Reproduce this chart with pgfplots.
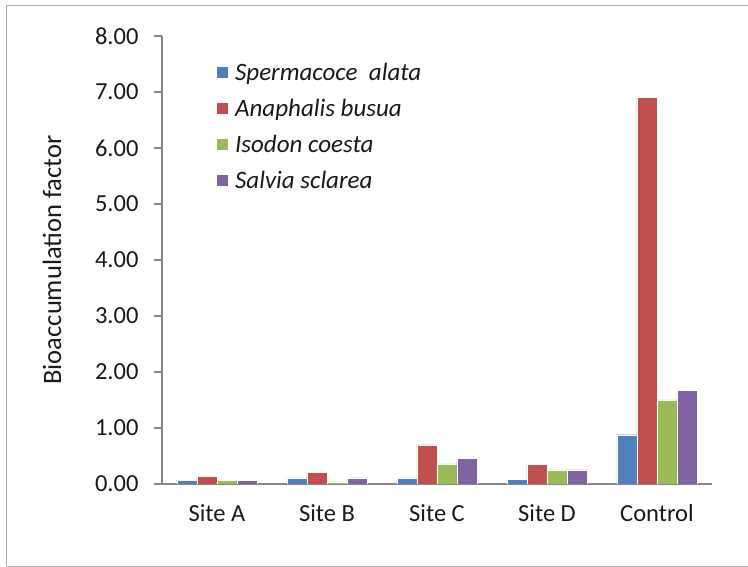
\documentclass[border=0pt]{standalone}
\usepackage{pgfplots}
\pgfplotsset{compat=1.18}
\usepackage{fontspec}
\setmainfont{Carlito}
\definecolor{sblue}{HTML}{4F81BD}
\definecolor{sred}{HTML}{C0504D}
\definecolor{sgreen}{HTML}{9BBB59}
\definecolor{spurple}{HTML}{8064A2}
\definecolor{axgray}{HTML}{868686}
\definecolor{txt}{HTML}{1A1A1A}
\begin{document}
\begin{tikzpicture}[x=1pt,y=1pt]
\useasboundingbox (0,0) rectangle (748,567);
\draw[axgray!70, line width=1pt] (750,561) -- (6,561) -- (6,0.8) -- (750,0.8);
\begin{axis}[
  at={(162pt,83pt)}, anchor=south west,
  scale only axis, width=550pt, height=448pt,
  font=\fontsize{24.5}{29}\selectfont\color{txt},
  ybar=0pt, bar width=20pt,
  xmin=-0.5, xmax=4.5, ymin=0, ymax=8,
  axis x line*=bottom, axis y line*=left,
  axis line style={axgray, line width=1.3pt},
  xtick={0,1,2,3,4},
  xticklabels={Site A, Site B, Site C, Site D, Control},
  extra x ticks={-0.5,0.5,1.5,2.5,3.5,4.5},
  extra x tick labels={},
  extra x tick style={major tick length=16pt, tick style={axgray, line width=1.3pt}},
  x tick style={draw=none},
  ytick={0,1,...,8},
  tick align=outside,
  y tick style={axgray, line width=1.3pt},
  major tick length=8pt,
  yticklabel style={/pgf/number format/fixed, /pgf/number format/fixed zerofill, /pgf/number format/precision=2, xshift=-12pt},
  /pgf/number format/assume math mode=true,
  xticklabel style={yshift=-9pt},
  ylabel={Bioaccumulation factor},
  ylabel style={at={(axis description cs:-0.2,0.5)}, anchor=center, font=\fontsize{26.5}{31}\selectfont\color{txt}},
  legend style={draw=none, fill=none, at={(axis description cs:0.093,0.95)}, anchor=north west,
    font=\fontsize{25}{29}\selectfont\itshape\color{txt}, row sep=12pt, legend cell align=left,
    nodes={inner sep=2.5pt}},
  legend image code/.code={\fill[#1] (2pt,-6pt) rectangle (14pt,6pt);},
]
\addplot[fill=sblue, draw=white, line width=0.3pt] coordinates {(0,0.07) (1,0.11) (2,0.11) (3,0.08) (4,0.88)};
\addplot[fill=sred, draw=white, line width=0.3pt] coordinates {(0,0.14) (1,0.21) (2,0.70) (3,0.35) (4,6.90)};
\addplot[fill=sgreen, draw=white, line width=0.3pt] coordinates {(0,0.07) (1,0.04) (2,0.36) (3,0.25) (4,1.50)};
\addplot[fill=spurple, draw=white, line width=0.3pt] coordinates {(0,0.07) (1,0.11) (2,0.46) (3,0.25) (4,1.67)};
\legend{\hspace{4pt}Spermacoce\ \ alata, \hspace{4pt}Anaphalis busua, \hspace{4pt}Isodon coesta, \hspace{4pt}Salvia sclarea}
\end{axis}
\end{tikzpicture}
\end{document}
